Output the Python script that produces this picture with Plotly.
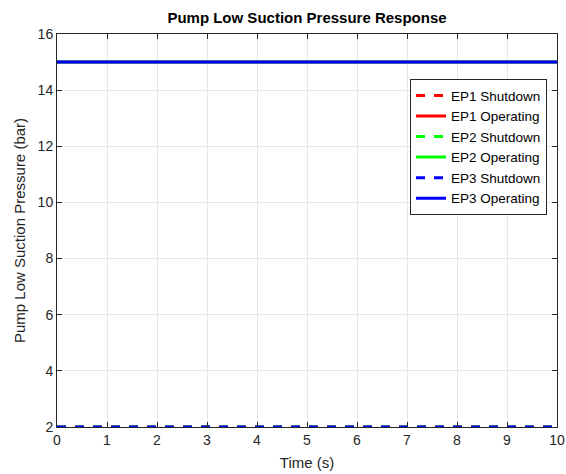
import plotly.graph_objects as go

time_s = [0, 10]
series_names = ["EP1 Shutdown", "EP1 Operating", "EP2 Shutdown", "EP2 Operating", "EP3 Shutdown", "EP3 Operating"]
series_values = [[2, 2], [15, 15], [2, 2], [15, 15], [2, 2], [15, 15]]
series_colors = ["#ff0000", "#ff0000", "#00ff00", "#00ff00", "#0000ff", "#0000ff"]
series_dash = ["dash", "solid", "dash", "solid", "dash", "solid"]

fig = go.Figure()
for name, vals, col, dsh in zip(series_names, series_values, series_colors, series_dash):
    fig.add_trace(go.Scatter(x=time_s, y=vals, mode="lines", name=name,
                             line=dict(color=col, width=3, dash=dsh)))

font = "Liberation Sans, Arial, sans-serif"
axis_common = dict(showline=True, linecolor="#262626", linewidth=1, mirror="ticks",
                   ticks="inside", ticklen=5, tickcolor="#262626", automargin=False,
                   showgrid=True, gridcolor="#e6e6e6", gridwidth=1, zeroline=False,
                   tickfont=dict(family=font, size=14, color="#262626"))
fig.update_xaxes(range=[0, 10], dtick=1, title=dict(text="Time (s)", font=dict(family=font, size=15, color="#262626"), standoff=10), **axis_common)
fig.update_yaxes(range=[2, 16], dtick=2, title=dict(text="Pump Low Suction Pressure (bar)", font=dict(family=font, size=15, color="#262626"), standoff=8), **axis_common)

fig.update_layout(
    width=566, height=474,
    margin=dict(l=57, r=9, t=34, b=47),
    paper_bgcolor="white", plot_bgcolor="white",
    title=dict(text="<b>Pump Low Suction Pressure Response</b>", x=0.5, xref="paper", xanchor="center",
               y=1 - 18/474, yanchor="middle", font=dict(family=font, size=15, color="black")),
    legend=dict(x=0.98, y=0.885, xanchor="right", yanchor="top", bgcolor="white",
                bordercolor="#262626", borderwidth=1, font=dict(family=font, size=13.5, color="black"),
                tracegroupgap=0, itemwidth=30),
    showlegend=True,
)

fig.write_html("out.html")
